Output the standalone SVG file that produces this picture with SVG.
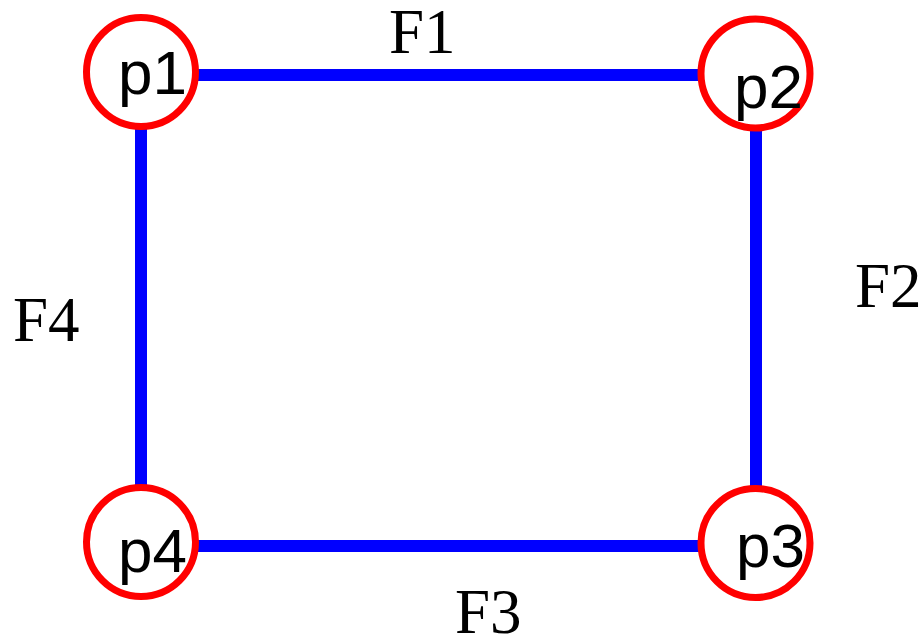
<svg xmlns="http://www.w3.org/2000/svg" width="923" height="638" viewBox="0 0 923 638">
<style>
.edge{stroke:#0000ff;stroke-width:12;fill:none}
.node circle{fill:#fff;stroke:#ff0000;stroke-width:7}
.node text{font-family:"Liberation Sans",Arial,sans-serif;font-size:62px;fill:#000}
.lbl{font-family:"Liberation Serif","Times New Roman",serif;font-size:63px;fill:#000}
</style>
<rect width="923" height="638" fill="#fff"/>
<g id="connectors">
<line class="edge" x1="141" y1="75" x2="755" y2="75"/>
<line class="edge" x1="756" y1="73" x2="756" y2="543"/>
<line class="edge" x1="141" y1="546" x2="755" y2="546"/>
<line class="edge" x1="141" y1="72" x2="141" y2="542"/>
</g>
<g id="labels">
<text class="lbl" x="389" y="53">F1</text>
<text class="lbl" x="855" y="307">F2</text>
<text class="lbl" x="455" y="633">F3</text>
<text class="lbl" x="13" y="341">F4</text>
</g>
<g id="p1" class="node"><circle cx="141" cy="72" r="54.5"/><text x="118" y="94">p1</text></g>
<g id="p2" class="node"><circle cx="755.5" cy="73.5" r="54.5"/><text x="734" y="108">p2</text></g>
<g id="p3" class="node"><circle cx="755.5" cy="543" r="54.5"/><text x="736" y="567">p3</text></g>
<g id="p4" class="node"><circle cx="141" cy="542" r="54.5"/><text x="118" y="572">p4</text></g>
</svg>
